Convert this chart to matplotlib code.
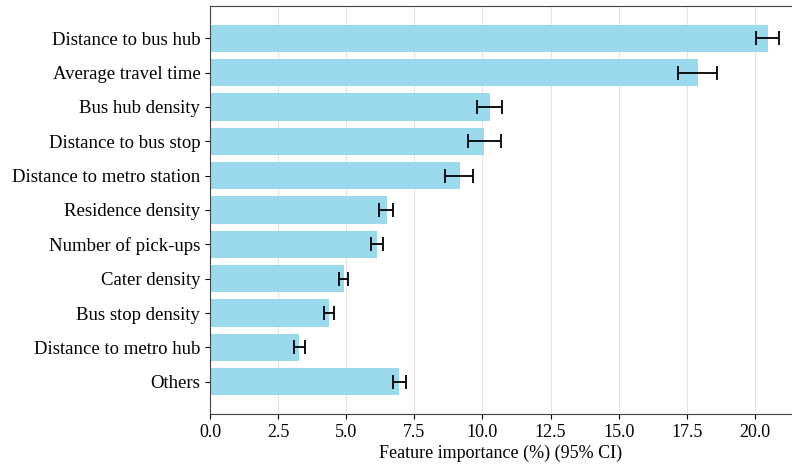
import matplotlib.pyplot as plt
import numpy as np

plt.rcParams['font.family'] = ['Liberation Serif', 'DejaVu Serif']

# Dados
features = ['Distance to bus hub', 'Average travel time', 'Bus hub density',
            'Distance to bus stop', 'Distance to metro station', 'Residence density',
            'Number of pick-ups', 'Cater density', 'Bus stop density',
            'Distance to metro hub', 'Others']
importance = [20.47, 17.90, 10.28, 10.06, 9.17, 6.50, 6.13, 4.92, 4.37, 3.27, 6.94]
ci_low = [20.03, 17.19, 9.81, 9.46, 8.64, 6.21, 5.90, 4.75, 4.20, 3.09, 6.72]
ci_high = [20.88, 18.62, 10.73, 10.69, 9.66, 6.70, 6.35, 5.05, 4.54, 3.47, 7.20]

imp = np.array(importance)
err = [imp - np.array(ci_low), np.array(ci_high) - imp]

fig = plt.figure(figsize=(7.92, 4.67), dpi=100)
ax = fig.add_axes([210 / 792, 53 / 467, 1 - 210 / 792, 408 / 467])

y = np.arange(len(features))
ax.barh(y, importance, height=0.8, color='#9bd9ed',
        xerr=err, capsize=5, error_kw={'ecolor': 'black', 'elinewidth': 1.3, 'capthick': 1.3})
ax.set_yticks(y)
ax.set_yticklabels(features, fontsize=13.5)
ax.invert_yaxis()
ax.set_xlim(0, 21.36)
ax.set_xticks(np.arange(0, 20.1, 2.5))
ax.tick_params(axis='x', labelsize=13)
ax.set_xlabel('Feature importance (%) (95% CI)', fontsize=13, labelpad=3)
ax.grid(axis='x', color='#e3e3e3', linewidth=0.8)
ax.set_axisbelow(True)
ax.spines['right'].set_visible(False)
for s in ['left', 'bottom', 'top']:
    ax.spines[s].set_color('#444444')

plt.savefig('out.png', dpi=100)
